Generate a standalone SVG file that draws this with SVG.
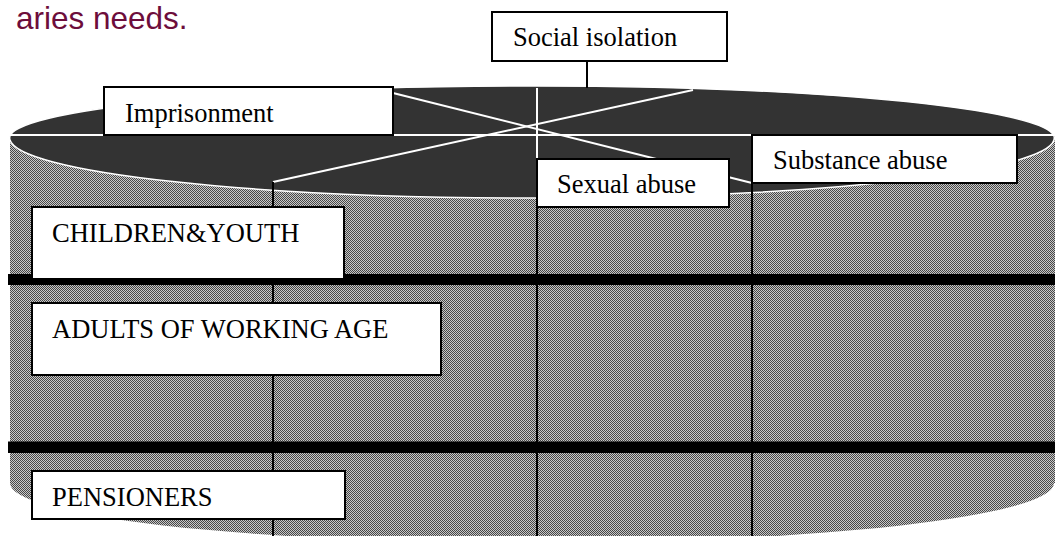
<svg xmlns="http://www.w3.org/2000/svg" width="1055" height="536" viewBox="0 0 1055 536">
  <style>
    .box { fill: #ffffff; stroke: #000000; stroke-width: 2; }
    .wline { stroke: #ffffff; stroke-width: 2; fill: none; }
    .bline { stroke: #000000; stroke-width: 2; fill: none; }
    .band { fill: #000000; }
    .lbl { font-family: 'Liberation Serif', 'Times New Roman', Times, serif; font-size: 26.5px; fill: #000000; }
  </style>
  <defs>
    <pattern id="dither" x="0" y="0" width="2" height="2" patternUnits="userSpaceOnUse">
      <rect x="0" y="0" width="2" height="2" fill="#c8c8c8"/>
      <rect x="0" y="0" width="1" height="1" fill="#474747"/>
      <rect x="1" y="1" width="1" height="1" fill="#474747"/>
    </pattern>
  </defs>

  <text x="16" y="29" font-family="'Liberation Sans', Arial, sans-serif" font-size="31.5" fill="#6d0d3b">aries needs.</text>

  <g id="cylinder">
    <path d="M10,140 L10,483 A522,60 0 0 0 1054,483 L1056,483 L1056,136 L1054,136 Z" fill="url(#dither)"/>
    <path d="M10,140 A522,52 0 0 1 1054,136 A522,60 0 0 1 10,140 Z" fill="#333333" stroke="#ffffff" stroke-width="1.5"/>
    <rect class="band" x="8" y="274" width="1048" height="11"/>
    <rect class="band" x="8" y="441.5" width="1048" height="11.5"/>
  </g>

  <g id="connectors">
    <line class="wline" x1="10" y1="135" x2="1054" y2="135"/>
    <line class="wline" x1="537" y1="88" x2="537" y2="159"/>
    <line class="wline" x1="393" y1="93" x2="752" y2="183"/>
    <line class="wline" x1="273" y1="182" x2="693" y2="90"/>
    <line class="bline" x1="587" y1="61" x2="587" y2="88"/>
    <line class="bline" x1="273" y1="182" x2="273" y2="536"/>
    <line class="bline" x1="537" y1="207" x2="537" y2="536"/>
    <line class="bline" x1="752" y1="183" x2="752" y2="536"/>
  </g>

  <g id="social-isolation">
    <rect class="box" x="492" y="12" width="235" height="49"/>
    <text class="lbl" x="513" y="46">Social isolation</text>
  </g>
  <g id="imprisonment">
    <rect class="box" x="104" y="87" width="289" height="48"/>
    <text class="lbl" x="125" y="122">Imprisonment</text>
  </g>
  <g id="substance-abuse">
    <rect class="box" x="752" y="135" width="265" height="48"/>
    <text class="lbl" x="773" y="169">Substance abuse</text>
  </g>
  <g id="sexual-abuse">
    <rect class="box" x="537" y="159" width="192" height="48"/>
    <text class="lbl" x="557" y="193">Sexual abuse</text>
  </g>
  <g id="children-youth">
    <rect class="box" x="32" y="207" width="312" height="72"/>
    <text class="lbl" x="52" y="242">CHILDREN&amp;YOUTH</text>
  </g>
  <g id="adults">
    <rect class="box" x="32" y="303" width="409" height="72"/>
    <text class="lbl" x="52" y="338">ADULTS OF WORKING AGE</text>
  </g>
  <g id="pensioners">
    <rect class="box" x="32" y="471" width="313" height="48"/>
    <text class="lbl" x="52" y="506">PENSIONERS</text>
  </g>
</svg>
